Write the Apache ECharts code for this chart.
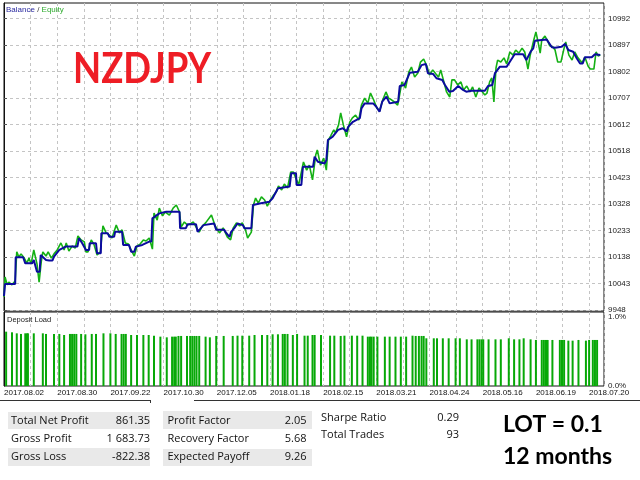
<!DOCTYPE html>
<html>
<head>
<meta charset="utf-8">
<script src="https://cdn.jsdelivr.net/npm/echarts@6/dist/echarts.min.js"></script>
<style>
    html, body { margin: 0; padding: 0; background: #ffffff; }
    #chart { width: 640px; height: 480px; }
</style>
</head>
<body>
<div id="chart"></div>
<script>
    // x = position along the test (10 units per date label), y = account value
    var dateLabels = ['2017.08.02', '2017.08.30', '2017.09.22', '2017.10.30', '2017.12.05', '2018.01.18',
        '2018.02.15', '2018.03.21', '2018.04.24', '2018.05.16', '2018.06.19', '2018.07.20'];
    var yTicks = [9948, 10043, 10138, 10233, 10328, 10423, 10518, 10612, 10707, 10802, 10897, 10992];
    var loadTicks = [0, 1];

    var balance = [[0, 9998], [0.2, 10041], [2.1, 10041], [2.2, 10137], [3.6, 10137], [4.0, 10115], [5.3, 10115],
        [5.6, 10127], [6.2, 10085], [6.7, 10085], [6.9, 10145], [7.9, 10127], [8.5, 10125], [9.1, 10125],
        [9.4, 10139], [10.4, 10163], [11.6, 10175], [13.8, 10175], [14.1, 10205], [14.7, 10187], [15.4, 10163],
        [16.0, 10163], [16.1, 10187], [17.3, 10187], [17.5, 10151], [18.2, 10151], [18.3, 10223], [19.5, 10223],
        [19.8, 10210], [20.7, 10210], [20.9, 10228], [22.2, 10228], [22.4, 10181], [23.5, 10181], [23.9, 10157],
        [24.5, 10157], [24.8, 10175], [26.0, 10181], [27.3, 10193], [27.7, 10193], [27.9, 10276], [29.2, 10294],
        [30.5, 10300], [33.0, 10300], [33.1, 10241], [34.2, 10241], [34.5, 10255], [36.1, 10255], [36.4, 10228],
        [37.5, 10252], [39.5, 10258], [39.9, 10235], [41.4, 10235], [41.8, 10223], [42.4, 10210], [42.7, 10228],
        [43.3, 10241], [43.9, 10258], [44.9, 10252], [45.2, 10241], [46.5, 10241], [46.8, 10324], [48.3, 10330],
        [49.9, 10336], [50.5, 10348], [51.5, 10384], [53.7, 10390], [54.0, 10438], [54.9, 10438], [55.0, 10396],
        [55.9, 10396], [56.2, 10461], [58.1, 10461], [58.4, 10497], [59.0, 10479], [60.3, 10473], [60.6, 10485],
        [60.9, 10557], [61.8, 10569], [62.8, 10593], [63.7, 10599], [64.4, 10587], [64.7, 10604], [65.6, 10622],
        [66.2, 10628], [66.9, 10635], [67.2, 10670], [67.8, 10688], [69.4, 10688], [70.0, 10676], [70.6, 10658],
        [71.1, 10694], [71.9, 10712], [72.5, 10688], [74.1, 10694], [74.4, 10750], [75.3, 10754], [76.3, 10798],
        [77.8, 10801], [78.5, 10825], [79.3, 10829], [79.7, 10796], [80.7, 10793], [81.3, 10778], [82.4, 10772],
        [82.9, 10754], [83.7, 10730], [84.4, 10732], [85.4, 10750], [86.3, 10736], [86.9, 10730], [87.9, 10733],
        [90.4, 10733], [91.0, 10750], [91.8, 10754], [92.3, 10796], [93.2, 10819], [94.5, 10819], [95.1, 10837],
        [96.0, 10864], [97.6, 10864], [98.2, 10843], [99.0, 10873], [99.5, 10885], [99.8, 10912], [102.0, 10917],
        [103.0, 10889], [103.6, 10887], [104.8, 10891], [105.5, 10901], [106.1, 10879], [107.0, 10873],
        [107.7, 10849], [108.3, 10831], [108.8, 10831], [109.2, 10853], [110.5, 10853], [111.1, 10864],
        [112.1, 10861]];

    var equity = [[0, 9995], [0.2, 10066], [0.6, 10038], [0.9, 10048], [1.5, 10038], [2.1, 10052], [2.4, 10156],
        [2.8, 10138], [3.2, 10149], [3.8, 10134], [4.3, 10116], [4.7, 10134], [5.1, 10113], [5.6, 10163],
        [6.2, 10113], [6.6, 10048], [7.0, 10120], [7.3, 10156], [7.9, 10141], [8.3, 10156], [8.9, 10134],
        [9.4, 10149], [10.0, 10163], [10.7, 10188], [11.3, 10163], [11.7, 10188], [12.2, 10159], [12.8, 10177],
        [13.4, 10170], [13.9, 10213], [14.5, 10199], [15.1, 10192], [15.4, 10156], [15.8, 10156], [16.4, 10199],
        [16.9, 10184], [17.5, 10145], [18.1, 10156], [18.6, 10249], [19.2, 10224], [19.8, 10217], [20.3, 10206],
        [21.1, 10252], [21.7, 10224], [22.2, 10235], [22.8, 10188], [23.4, 10184], [23.9, 10163], [24.5, 10141],
        [25.0, 10177], [25.6, 10184], [26.2, 10199], [26.7, 10195], [27.3, 10206], [27.9, 10166], [28.2, 10295],
        [28.8, 10270], [29.2, 10313], [29.8, 10285], [30.3, 10299], [31.1, 10288], [31.8, 10313], [32.4, 10324],
        [33.0, 10299], [33.3, 10245], [33.9, 10263], [34.5, 10252], [35.0, 10256], [35.6, 10263], [36.2, 10242],
        [36.7, 10227], [37.3, 10249], [37.9, 10260], [38.2, 10256], [39.0, 10288], [39.7, 10249], [40.5, 10224],
        [41.2, 10242], [42.0, 10209], [42.6, 10199], [43.1, 10242], [43.7, 10260], [44.3, 10249], [44.8, 10260],
        [45.4, 10235], [45.8, 10206], [46.5, 10227], [46.9, 10324], [47.3, 10349], [47.8, 10331], [48.4, 10353],
        [49.0, 10342], [49.5, 10320], [50.1, 10342], [50.7, 10360], [51.2, 10371], [51.6, 10392], [52.2, 10378],
        [52.7, 10399], [53.3, 10385], [53.9, 10442], [54.4, 10442], [55.0, 10414], [55.4, 10396], [55.7, 10392],
        [56.3, 10478], [56.9, 10449], [57.4, 10467], [58.0, 10414], [58.6, 10503], [58.9, 10521], [59.5, 10467],
        [60.1, 10492], [60.6, 10449], [61.0, 10557], [61.4, 10571], [62.0, 10593], [62.3, 10582], [62.9, 10611],
        [63.3, 10654], [63.8, 10611], [64.4, 10568], [65.0, 10621], [65.5, 10636], [66.1, 10646], [66.7, 10628],
        [67.2, 10682], [67.8, 10707], [68.4, 10689], [68.9, 10725], [69.5, 10700], [70.1, 10671], [70.6, 10661],
        [71.2, 10700], [71.8, 10729], [72.3, 10707], [72.9, 10700], [73.4, 10693], [74.0, 10682], [74.2, 10700],
        [74.8, 10765], [75.5, 10743], [76.1, 10800], [76.6, 10818], [77.2, 10782], [77.8, 10797], [78.3, 10836],
        [78.9, 10847], [79.5, 10822], [80.0, 10790], [80.6, 10808], [81.2, 10793], [81.7, 10782], [82.1, 10808],
        [82.7, 10765], [83.2, 10729], [83.8, 10711], [84.2, 10772], [84.7, 10772], [85.3, 10754], [85.9, 10765],
        [86.4, 10736], [87.0, 10750], [87.6, 10729], [88.1, 10747], [88.7, 10711], [89.3, 10743], [89.8, 10732],
        [90.4, 10718], [90.8, 10725], [91.3, 10765], [91.7, 10779], [92.1, 10693], [92.5, 10815], [92.8, 10843],
        [93.4, 10836], [94.0, 10851], [94.5, 10829], [95.1, 10872], [95.7, 10861], [96.2, 10879], [96.8, 10868],
        [97.4, 10886], [97.9, 10872], [98.5, 10811], [98.9, 10858], [99.2, 10883], [99.6, 10915], [100.0, 10944],
        [100.4, 10908], [100.8, 10868], [101.1, 10915], [101.7, 10929], [102.3, 10908], [102.6, 10894],
        [103.2, 10890], [103.6, 10879], [104.1, 10836], [104.7, 10836], [105.3, 10886], [105.6, 10908],
        [106.2, 10861], [106.8, 10843], [107.3, 10872], [107.9, 10851], [108.7, 10833], [109.2, 10854],
        [109.8, 10822], [110.2, 10811], [110.9, 10811], [111.3, 10872], [111.7, 10858], [112.1, 10861]];

    // deposit load in percent
    var depositLoad = [[0.4, 0.787], [1.5, 0.778], [2.4, 0.763], [3.2, 0.754], [4.0, 0.763], [4.3, 0.763],
        [4.5, 0.763], [5.6, 0.763], [7.3, 0.763], [7.9, 0.754], [9.4, 0.754], [10.4, 0.754], [11.3, 0.739],
        [12.4, 0.754], [12.8, 0.754], [13.2, 0.754], [13.6, 0.754], [14.5, 0.754], [15.3, 0.749], [16.5, 0.754],
        [17.3, 0.754], [18.7, 0.763], [20.0, 0.763], [21.0, 0.754], [22.1, 0.754], [22.5, 0.754], [22.9, 0.754],
        [23.9, 0.739], [25.0, 0.739], [26.2, 0.739], [27.2, 0.739], [28.2, 0.729], [29.4, 0.715], [30.6, 0.705],
        [31.6, 0.715], [32.0, 0.715], [32.3, 0.715], [32.8, 0.725], [33.3, 0.725], [34.4, 0.725], [35.0, 0.725],
        [35.4, 0.725], [35.8, 0.725], [36.2, 0.725], [36.7, 0.725], [37.9, 0.715], [38.7, 0.705], [39.9, 0.725],
        [41.3, 0.725], [43.0, 0.725], [43.9, 0.729], [44.8, 0.729], [46.1, 0.729], [47.1, 0.739], [48.5, 0.739],
        [49.5, 0.739], [50.5, 0.749], [51.5, 0.749], [52.4, 0.754], [52.8, 0.754], [53.3, 0.754], [54.3, 0.739],
        [55.1, 0.754], [56.5, 0.729], [57.1, 0.729], [58.0, 0.739], [58.4, 0.739], [59.6, 0.739], [61.3, 0.729],
        [62.1, 0.729], [63.3, 0.725], [64.0, 0.729], [65.4, 0.729], [66.4, 0.729], [67.4, 0.729], [68.4, 0.715],
        [68.8, 0.715], [69.1, 0.715], [69.5, 0.715], [70.2, 0.715], [71.6, 0.715], [72.5, 0.715], [73.6, 0.715],
        [74.6, 0.715], [75.6, 0.715], [76.8, 0.729], [77.4, 0.725], [78.0, 0.725], [78.5, 0.725], [78.9, 0.725],
        [79.4, 0.691], [80.8, 0.691], [81.4, 0.691], [82.5, 0.691], [83.6, 0.691], [84.9, 0.691], [85.7, 0.691],
        [87.0, 0.676], [87.9, 0.676], [89.0, 0.676], [89.4, 0.676], [89.8, 0.676], [90.1, 0.676], [91.1, 0.676],
        [92.4, 0.676], [93.4, 0.676], [94.9, 0.691], [95.9, 0.676], [96.9, 0.676], [97.7, 0.691], [99.0, 0.676],
        [100.0, 0.667], [101.1, 0.667], [101.5, 0.667], [101.9, 0.667], [102.2, 0.667], [103.1, 0.667],
        [104.5, 0.667], [104.9, 0.667], [105.3, 0.667], [106.1, 0.657], [106.9, 0.657], [108.0, 0.667],
        [109.4, 0.657], [110.0, 0.667], [110.7, 0.667], [111.1, 0.667], [111.5, 0.667]];

    var stats1 = [['Total Net Profit', '861.35'], ['Gross Profit', '1 683.73'], ['Gross Loss', '-822.38']];
    var stats2 = [['Profit Factor', '2.05'], ['Recovery Factor', '5.68'], ['Expected Payoff', '9.26']];
    var stats3 = [['Sharpe Ratio', '0.29'], ['Total Trades', '93']];

    var chart = echarts.init(document.getElementById('chart'));

    var smallFont = 'Liberation Sans';
    var statFont = '"Open Sans"';

    //统计表格的文字
    var graphics = [];
    function addRow(list, lx, rx, ys, bands, bandX, bandW) {
        for (var i = 0; i < list.length; i++) {
            if (bands && bands[i]) {
                graphics.push({
                    type: 'rect', shape: {x: bandX, y: bands[i][0], width: bandW, height: bands[i][1]},
                    style: {fill: '#e9e9e9'}, z: 1
                });
            }
            graphics.push({
                type: 'text', x: lx, y: ys[i], z: 2,
                style: {text: list[i][0], font: '11px ' + statFont, fill: '#111', align: 'left', verticalAlign: 'middle'}
            });
            graphics.push({
                type: 'text', x: rx, y: ys[i], z: 2,
                style: {text: list[i][1], font: '11px ' + statFont, fill: '#111', align: 'right', verticalAlign: 'middle'}
            });
        }
    }
    addRow(stats1, 11, 150, [420.5, 439, 457], [[412, 17], null, [448, 18]], 8, 142);
    addRow(stats2, 167.5, 306.5, [420.5, 439, 457], [[411, 18], null, [449, 17]], 163, 149);
    addRow(stats3, 321, 459, [418, 435], null);

    graphics.push(
        {
            type: 'text', x: 6, y: 9.5, z: 5,
            style: {
                text: '{b|Balance} {s|/} {e|Equity}', font: '8px ' + smallFont, verticalAlign: 'middle',
                rich: {
                    b: {fill: '#2b2ba0', font: '8px ' + smallFont},
                    s: {fill: '#333', font: '8px ' + smallFont},
                    e: {fill: '#2eab2e', font: '8px ' + smallFont}
                }
            }
        },
        {
            type: 'text', x: 7, y: 319.5, z: 5,
            style: {text: 'Deposit Load', font: '7.5px ' + smallFont, fill: '#222', verticalAlign: 'middle'}
        },
        {
            type: 'text', x: 73, y: 69, scaleX: 0.87, z: 5,
            style: {text: 'NZDJPY', font: 'bold 42px Lato', fill: '#ee1d25', verticalAlign: 'middle'}
        },
        {
            type: 'text', x: 503, y: 425, z: 5,
            style: {text: 'LOT = 0.1', font: 'bold 23px Lato', fill: '#000', verticalAlign: 'middle'}
        },
        {
            type: 'text', x: 503, y: 457, z: 5,
            style: {text: '12 months', font: 'bold 23px Lato', fill: '#000', verticalAlign: 'middle'}
        },
        {type: 'line', shape: {x1: 0, y1: 400.5, x2: 150.5, y2: 400.5}, style: {stroke: '#333', lineWidth: 1}},
        {type: 'line', shape: {x1: 150.5, y1: 400, x2: 150.5, y2: 403}, style: {stroke: '#333', lineWidth: 1}},
        {type: 'line', shape: {x1: 194, y1: 400.5, x2: 640, y2: 400.5}, style: {stroke: '#333', lineWidth: 1}}
    );

    var xCommon = {
        type: 'value', min: 0, max: 112.8, interval: 5,
        axisLine: {show: false}, axisTick: {show: false},
        splitLine: {show: true, lineStyle: {color: '#c4c4c4', type: [3, 3], width: 1}}
    };

    chart.setOption({
        animation: false,
        textStyle: {fontFamily: smallFont},
        grid: [
            {left: 4, right: 36, top: 3, height: 308, show: true, borderColor: '#111', borderWidth: 1},
            {left: 4, right: 36, top: 312, height: 74, show: true, borderColor: '#111', borderWidth: 1}
        ],
        xAxis: [
            Object.assign({}, xCommon, {gridIndex: 0, axisLabel: {show: false}}),
            Object.assign({}, xCommon, {
                gridIndex: 1,
                axisLabel: {
                    show: true, fontSize: 8, color: '#111', margin: 3, align: 'left',
                    fontFamily: smallFont,
                    formatter: function (v) {
                        return (v % 10 === 0 && dateLabels[v / 10]) ? dateLabels[v / 10] : '';
                    }
                }
            })
        ],
        yAxis: [
            {
                type: 'value', gridIndex: 0, position: 'right', min: 9944.4, max: 11047.5,
                axisLine: {show: true, lineStyle: {color: '#111'}},
                axisTick: {show: true, length: 3, customValues: yTicks, lineStyle: {color: '#555'}},
                axisLabel: {
                    show: true, customValues: yTicks, fontSize: 8, color: '#222', margin: 4,
                    fontFamily: smallFont,
                    formatter: function (v) { return String(Math.round(v)); }
                },
                splitLine: {show: true, lineStyle: {color: '#c4c4c4', type: [3, 3], width: 1}}
            },
            {
                type: 'value', gridIndex: 1, position: 'right', min: 0, max: 1.072,
                axisLine: {show: true, lineStyle: {color: '#111'}},
                axisTick: {show: false, customValues: loadTicks},
                axisLabel: {
                    show: true, customValues: loadTicks, fontSize: 8, color: '#222', margin: 4,
                    fontFamily: smallFont,
                    formatter: function (v) { return v.toFixed(1) + '%'; }
                },
                splitLine: {show: false}
            }
        ],
        series: [
            {
                name: 'Equity', type: 'line', xAxisIndex: 0, yAxisIndex: 0, data: equity,
                showSymbol: false, lineStyle: {color: '#14b014', width: 1.6}, z: 3
            },
            {
                name: 'Balance', type: 'line', xAxisIndex: 0, yAxisIndex: 0, data: balance,
                showSymbol: false, lineStyle: {color: '#0b0b9e', width: 2}, z: 4
            },
            {
                name: 'Deposit Load', type: 'bar', xAxisIndex: 1, yAxisIndex: 1, data: depositLoad,
                barWidth: 2, itemStyle: {color: '#07a807'}
            }
        ],
        graphic: graphics
    });
</script>
</body>
</html>
